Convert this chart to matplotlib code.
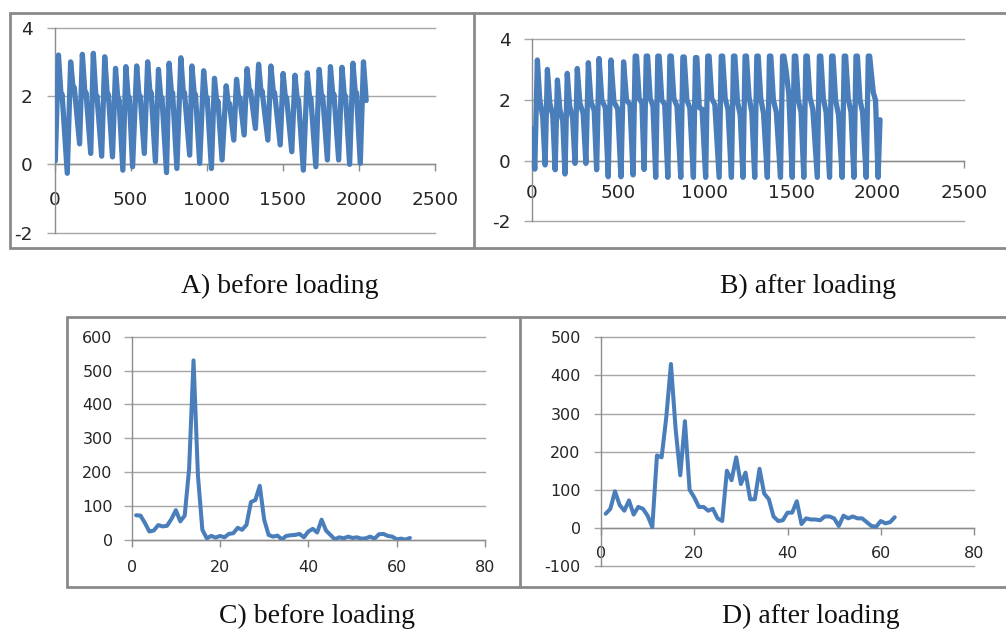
import matplotlib
matplotlib.use('Agg')
import matplotlib.pyplot as plt
from matplotlib.lines import Line2D

plt.rcParams['font.family'] = ['DejaVu Sans']

# ---------------- data ----------------
# Panel A: signal before loading (vertices)
A_x = [5,
       26, 44, 50, 84,
       106, 124, 130, 165,
       183, 201, 207, 238,
       255, 273, 279, 310,
       330, 348, 354, 381,
       401, 418, 424, 449,
       469, 486, 492, 513,
       540, 557, 563, 590,
       612, 629, 635, 663,
       683, 700, 706, 736,
       753, 770, 776, 804,
       830, 848, 854, 888,
       903, 920, 926, 954,
       980, 997, 1003, 1031,
       1051, 1068, 1074, 1101,
       1128, 1144, 1150, 1178,
       1196, 1212, 1218, 1246,
       1265, 1282, 1288, 1320,
       1341, 1358, 1364, 1402,
       1422, 1440, 1446, 1483,
       1502, 1519, 1525, 1559,
       1580, 1597, 1603, 1635,
       1661, 1678, 1684, 1717,
       1739, 1756, 1762, 1793,
       1813, 1830, 1836, 1867,
       1889, 1906, 1912, 1939,
       1961, 1978, 1984, 2009,
       2030, 2048]
A_y = [0.10,
       3.20, 1.95, 2.05, -0.26,
       3.00, 2.15, 2.25, 0.60,
       3.22, 2.00, 2.10, 0.32,
       3.25, 1.90, 2.00, 0.24,
       3.15, 1.95, 2.05, 0.22,
       2.81, 1.80, 1.90, -0.17,
       2.86, 1.85, 1.95, -0.07,
       2.88, 1.90, 2.00, 0.32,
       3.00, 2.00, 2.10, 0.08,
       2.78, 1.85, 1.95, -0.24,
       2.96, 2.00, 2.10, -0.12,
       3.12, 2.00, 2.10, 0.27,
       2.88, 1.95, 2.05, 0.03,
       2.74, 1.85, 1.95, -0.12,
       2.52, 1.75, 1.85, 0.13,
       2.30, 1.70, 1.78, 0.71,
       2.49, 1.85, 1.95, 0.86,
       2.80, 2.05, 2.15, 1.05,
       2.93, 2.05, 2.15, 0.71,
       2.88, 2.00, 2.10, 0.57,
       2.66, 1.85, 1.95, 0.37,
       2.61, 1.80, 1.90, -0.17,
       2.68, 1.85, 1.95, -0.07,
       2.78, 1.90, 2.00, 0.13,
       2.86, 1.95, 2.05, 0.13,
       2.84, 1.90, 2.00, 0.00,
       2.96, 2.00, 2.10, 0.03,
       3.00, 1.87]

# Panel B: signal after loading
B_x = [3, 16,
       31, 45, 62, 76,
       89, 103, 120, 134,
       147, 161, 178, 191,
       204, 218, 235, 249,
       262, 277, 296, 312,
       326, 341, 360, 374,
       388, 404, 424, 441,
       457, 474, 496, 515,
       530, 547, 567, 585,
       597, 605, 620, 636, 649,
       661, 669, 684, 700, 716,
       728, 736, 751, 768, 786,
       798, 806, 821, 839, 861,
       873, 881, 896, 913, 934,
       946, 954, 968, 984, 1005,
       1017, 1025, 1040, 1058, 1083,
       1095, 1103, 1118, 1134, 1154,
       1166, 1174, 1189, 1205, 1221,
       1233, 1241, 1256, 1272, 1289,
       1301, 1309, 1324, 1340, 1362,
       1374, 1382, 1397, 1414, 1438,
       1450, 1458, 1470, 1486, 1506,
       1518, 1526, 1541, 1557, 1573,
       1585, 1593, 1608, 1625, 1651,
       1663, 1671, 1686, 1702, 1722,
       1734, 1742, 1757, 1774, 1795,
       1807, 1815, 1830, 1846, 1863,
       1875, 1883, 1898, 1913, 1934,
       1946, 1954, 1975, 1988, 2003, 2014]
B_y = [1.05, -0.28,
       3.32, 2.00, 1.45, -0.14,
       3.01, 1.90, 1.50, -0.30,
       2.66, 1.70, 1.30, -0.44,
       2.88, 1.80, 1.40, -0.09,
       3.04, 1.90, 1.55, -0.09,
       3.23, 1.95, 1.65, -0.30,
       3.37, 2.00, 1.75, -0.53,
       3.32, 1.95, 1.70, -0.53,
       3.26, 2.00, 1.85, -0.47,
       3.45, 3.45, 2.05, 1.90, -0.29,
       3.45, 3.45, 2.05, 1.80, -0.55,
       3.45, 3.45, 2.00, 1.85, -0.55,
       3.45, 3.45, 2.05, 1.80, -0.55,
       3.42, 3.42, 2.00, 1.75, -0.55,
       3.40, 3.40, 1.75, 1.70, -0.55,
       3.45, 3.45, 2.05, 1.85, -0.55,
       3.45, 3.45, 2.05, 1.70, -0.55,
       3.45, 3.45, 1.95, 1.50, -0.55,
       3.45, 3.45, 2.10, 1.60, -0.55,
       3.45, 3.45, 2.05, 1.55, -0.55,
       3.45, 3.45, 2.00, 1.60, -0.55,
       3.45, 3.45, 3.00, 2.20, -0.55,
       3.45, 3.45, 2.00, 1.60, -0.55,
       3.45, 3.45, 2.10, 1.70, -0.55,
       3.45, 3.45, 2.05, 1.60, -0.55,
       3.45, 3.45, 2.00, 1.50, -0.55,
       3.45, 3.45, 2.05, 1.60, -0.55,
       3.45, 3.45, 2.00, 1.60, -0.55,
       3.45, 3.45, 2.25, 2.00, -0.55, 1.35]

# Panels C and D: spectra (index 1..63)
C_x = list(range(1, 64))
C_y = [73, 72, 50, 25, 28, 44, 40, 42, 62, 88, 55, 72, 210, 530, 190, 30,
       5, 12, 7, 12, 8, 18, 20, 36, 30, 45, 112, 118, 160, 60, 15, 10,
       13, 2, 12, 14, 15, 18, 8, 25, 33, 22, 60, 28, 15, 2, 8, 5,
       10, 6, 8, 4, 5, 10, 4, 17, 18, 12, 10, 2, 4, 1, 6]
D_x = list(range(1, 64))
D_y = [37, 50, 96, 60, 45, 72, 35, 55, 50, 32, 2, 190, 185, 290, 430, 260,
       138, 280, 100, 80, 55, 55, 45, 50, 25, 18, 150, 125, 185, 115, 145, 75,
       75, 155, 90, 75, 30, 18, 20, 40, 40, 70, 10, 25, 22, 22, 20, 30,
       30, 25, 5, 32, 25, 30, 25, 25, 15, 5, 3, 18, 12, 15, 28]

xticks_AB = [0, 500, 1000, 1500, 2000, 2500]
yticks_AB = [-2, 0, 2, 4]
xticks_CD = [0, 20, 40, 60, 80]
yticks_C = [0, 100, 200, 300, 400, 500, 600]
yticks_D = [-100, 0, 100, 200, 300, 400, 500]
captions = ['A) before loading', 'B) after loading',
            'C) before loading', 'D) after loading']

# ---------------- drawing ----------------
W, H = 1006, 634
fig = plt.figure(figsize=(W / 100, H / 100), dpi=100)
fig.patch.set_facecolor('white')

LINE = '#4a7ebb'
GRID = '#a6a6a6'
AXC = '#8c8c8c'
TXT = '#262626'
FRAME = '#8a8a8a'


def box(l, t, r, b):
    return [l / W, 1 - b / H, (r - l) / W, (b - t) / H]


def make_axes(rect, xlim, ylim, xticks, yticks, fs, xpad, ypad, xlen, ylen):
    ax = fig.add_axes(box(*rect))
    ax.set_facecolor('none')
    ax.set_xlim(*xlim)
    ax.set_ylim(*ylim)
    ax.set_xticks(xticks)
    ax.set_xticklabels([str(t) for t in xticks])
    ax.set_yticks(yticks)
    ax.set_yticklabels([str(t) for t in yticks])
    for s in ['top', 'right']:
        ax.spines[s].set_visible(False)
    ax.spines['bottom'].set_position(('data', 0))
    for s in ['left', 'bottom']:
        ax.spines[s].set_color(AXC)
        ax.spines[s].set_linewidth(1.0)
    ax.tick_params(axis='x', direction='out', length=xlen, width=1.0,
                   color=AXC, pad=xpad, labelsize=fs, labelcolor=TXT)
    ax.tick_params(axis='y', direction='out', length=ylen, width=1.0,
                   color=GRID, pad=ypad, labelsize=fs, labelcolor=TXT)
    ax.grid(axis='y', color=GRID, linewidth=1.0)
    ax.set_axisbelow(True)
    for gl in ax.get_ygridlines():
        gl.set_clip_on(False)
    return ax


axA = make_axes((54.5, 27.7, 435, 232.7), (0, 2500), (-2, 4),
                xticks_AB, yticks_AB, 13.3, 14, 10, 5, 5.8)
axA.plot(A_x, A_y, color=LINE, lw=3.8, solid_joinstyle='round',
         solid_capstyle='round', zorder=3)

axB = make_axes((532, 39.4, 964, 221.3), (0, 2500), (-2, 4),
                xticks_AB, yticks_AB, 13.3, 11.5, 9.5, 5, 5.8)
axB.plot(B_x, B_y, color=LINE, lw=3.8, solid_joinstyle='round',
         solid_capstyle='round', zorder=3)

axC = make_axes((131.7, 336.7, 485, 540), (0, 80), (0, 600),
                xticks_CD, yticks_C, 11.5, 9.6, 8.2, 4.8, 5.5)
axC.plot(C_x, C_y, color=LINE, lw=2.9, solid_joinstyle='round',
         solid_capstyle='round', zorder=3)

axD = make_axes((601, 337.3, 974, 566), (0, 80), (-100, 500),
                xticks_CD, yticks_D, 11.5, 8.2, 9.6, 4.8, 5)
axD.plot(D_x, D_y, color=LINE, lw=2.9, solid_joinstyle='round',
         solid_capstyle='round', zorder=3)

# panel frames
def fline(x0, y0, x1, y1):
    fig.add_artist(Line2D([x0 / W, x1 / W], [1 - y0 / H, 1 - y1 / H],
                          color=FRAME, lw=2.0, solid_capstyle='butt'))

fline(9, 13, 1006, 13)
fline(9, 248, 1006, 248)
fline(10, 12, 10, 249)
fline(474, 12, 474, 249)
fline(66, 317, 1006, 317)
fline(66, 587, 1006, 587)
fline(67, 316, 67, 588)
fline(519.5, 316, 519.5, 588)

# captions
cap_pos = [(280, 292.7), (808, 292.7), (317, 623), (811, 623)]
for (cx, cy), txt in zip(cap_pos, captions):
    fig.text(cx / W, 1 - cy / H, txt, ha='center', va='baseline',
             fontsize=20, family='Liberation Serif', color='#111111')

fig.savefig('out.png', dpi=100, facecolor='white')
